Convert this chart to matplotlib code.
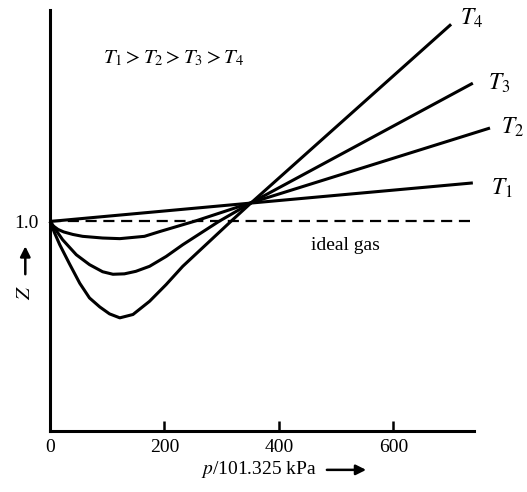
import matplotlib

matplotlib.use("Agg")
import matplotlib.pyplot as plt

plt.rcParams["font.family"] = ["Liberation Serif", "DejaVu Serif"]
plt.rcParams["mathtext.fontset"] = "stix"

# values (p in units of 101.325 kPa, Z compressibility)
t1_p = [0, 352, 739]
t1_z = [1.0, 1.088, 1.184]

t2_p = [0, 6, 14, 24, 40, 57, 92, 122, 165, 192, 255, 352, 769]
t2_z = [1.0, 0.978, 0.962, 0.950, 0.938, 0.929, 0.921, 0.918, 0.929, 0.952, 1.003, 1.09, 1.446]

t3_p = [0, 22, 46, 69, 92, 110, 130, 150, 174, 203, 232, 295, 352, 739]
t3_z = [1.0, 0.913, 0.841, 0.794, 0.760, 0.748, 0.750, 0.762, 0.786, 0.833, 0.889, 1.0, 1.09, 1.660]

t4_p = [0, 8, 17, 34, 52, 69, 87, 104, 122, 145, 174, 203, 232, 316, 352, 701]
t4_z = [1.0, 0.945, 0.889, 0.798, 0.705, 0.635, 0.592, 0.559, 0.540, 0.556, 0.619, 0.699, 0.786, 1.0, 1.09, 1.941]

ideal_p = [0, 741]
ideal_z = [1.0, 1.0]

x_ticks = [0, 200, 400, 600]
curve_labels = [r"$T_1$", r"$T_2$", r"$T_3$", r"$T_4$"]
label_pos = [(789, 1.159), (808, 1.448), (785, 1.659), (737, 1.969)]

fig = plt.figure(figsize=(5.27, 4.92), dpi=100)
ax = fig.add_axes([0.0949, 0.124, 0.8045, 0.856])

for p, z in [(t1_p, t1_z), (t2_p, t2_z), (t3_p, t3_z), (t4_p, t4_z)]:
    ax.plot(p, z, color="black", linewidth=2.2, solid_capstyle="butt",
            solid_joinstyle="round", clip_on=False)
ax.plot(ideal_p, ideal_z, color="black", linewidth=1.6, dashes=(5, 3))

for text, (px, pz) in zip(curve_labels, label_pos):
    ax.text(px, pz, text, fontsize=17, ha="center", va="center", clip_on=False)

ax.text(517, 0.885, "ideal gas", fontsize=14, ha="center", va="center")
ax.text(0.29, 0.885, r"$T_1 > T_2 > T_3 > T_4$", transform=ax.transAxes,
        fontsize=15, ha="center", va="center")

ax.set_xlim(0, 741)
ax.set_ylim(0, 2.01)
for side in ["top", "right"]:
    ax.spines[side].set_visible(False)
for side in ["left", "bottom"]:
    ax.spines[side].set_linewidth(2.2)

ax.set_xticks(x_ticks)
ax.set_xticklabels([str(v) for v in x_ticks], fontsize=14)
ax.tick_params(axis="x", direction="in", length=7, width=1.8, pad=6)
ax.set_yticks([1.0])
ax.set_yticklabels(["1.0"], fontsize=14)
ax.tick_params(axis="y", length=0, pad=8)

# axis labels with arrows, as in the original figure
fig.text(0.492, 0.045, r"$p$/101.325 kPa", fontsize=14, ha="center", va="center")
ax.annotate("", xy=(0.70, 0.045), xytext=(0.615, 0.045), xycoords="figure fraction",
            textcoords="figure fraction", annotation_clip=False,
            arrowprops=dict(arrowstyle="-|>", color="black", lw=1.8, mutation_scale=15))
fig.text(0.048, 0.405, r"$Z$", fontsize=15, rotation=90, ha="center", va="center")
ax.annotate("", xy=(0.048, 0.505), xytext=(0.048, 0.437), xycoords="figure fraction",
            textcoords="figure fraction", annotation_clip=False,
            arrowprops=dict(arrowstyle="-|>", color="black", lw=1.8, mutation_scale=15))

fig.savefig("out.png", dpi=100)
